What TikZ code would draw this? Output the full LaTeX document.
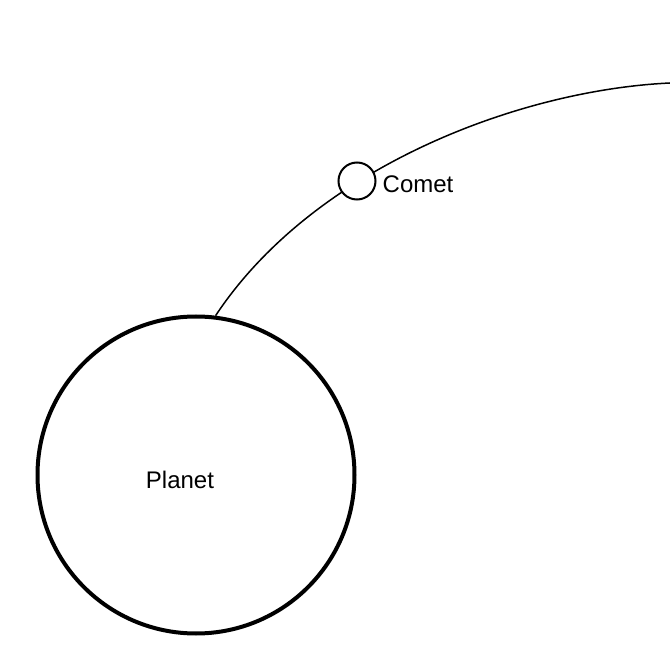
\documentclass[tikz,border=0pt]{standalone}
\usepackage{fontspec}
\setmainfont{Liberation Sans}
\begin{document}
\begin{tikzpicture}[x=1pt,y=-1pt,
  body/.style={circle,draw,line width=4pt,minimum size=317pt,inner sep=0pt},
  small/.style={circle,draw,line width=2pt,fill=white,minimum size=37pt,inner sep=0pt},
  path/.style={line width=1.5pt},
  lbl/.style={font=\fontsize{24}{28}\selectfont,inner sep=0pt}]
\useasboundingbox (0,0) rectangle (670,668);
\node[body] (planet) at (196,475) {};
\node[lbl] (planettext) at (180,480) {Planet};
\coordinate (edge) at (670,83);
\draw[path] (planet.83) .. controls (314,167) and (520,90) .. (edge);
\node[small] (comet) at (357,181) {};
\node[lbl,anchor=west] (comettext) at ([xshift=6pt,yshift=-3pt]comet.east) {Comet};
\end{tikzpicture}
\end{document}
